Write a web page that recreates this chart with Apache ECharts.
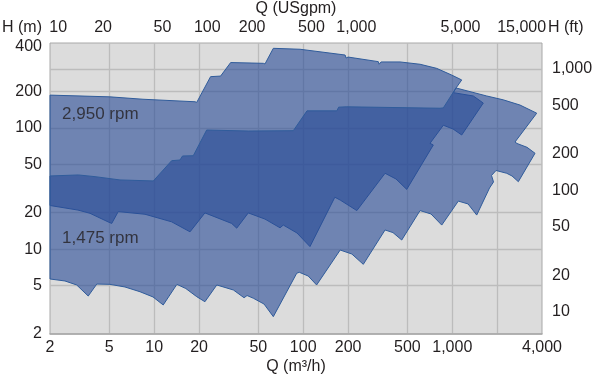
<!DOCTYPE html>
<html>
<head>
<meta charset="utf-8">
<script src="https://cdn.jsdelivr.net/npm/echarts@6/dist/echarts.min.js"></script>
<style>
  html, body { margin: 0; padding: 0; background: #fff; }
  #chart { width: 600px; height: 376px; }
</style>
</head>
<body>
<div id="chart"></div>
<script>
// outlines of the two operating ranges, [Q (m3/h), H (m)]
const rpm2950 = [
  [2, 186], [5.05, 180], [8.41, 172], [18.8, 164], [19.3, 162], [23.9, 264], [27.9, 267],
  [32.6, 345], [54.0, 340], [55.4, 336], [63.0, 452], [95.2, 444], [191, 398], [194, 376],
  [200, 383], [319, 351], [323, 334], [333, 349], [446, 349], [608, 334], [786, 309],
  [992, 272], [1157, 248], [1060, 213], [1016, 195], [1384, 183], [1615, 160], [1157, 87.3],
  [1012, 97.8], [871, 105], [709, 74.5], [746, 72.2], [495, 31.1], [419, 37.9], [354, 42.2],
  [229, 20.8], [177, 25.4], [163, 26.8], [111, 10.5], [90.8, 13.6], [73.5, 15.8], [69.9, 15.0],
  [55.4, 17.7], [42.8, 19.9], [35.8, 14.9], [33.1, 16.3], [21.9, 19.9], [17.4, 13.9],
  [13.1, 16.8], [8.68, 19.4], [5.74, 20.4], [5.19, 16.3], [4.90, 16.8], [3.71, 19.75],
  [3.08, 21.0], [2, 22.9]
];
const rpm1475 = [
  [2, 40.1], [3.10, 40.9], [4.01, 39.6], [5.90, 37.2], [9.87, 36.5], [13.1, 53.6], [14.9, 54.3],
  [15.5, 58.6], [18.3, 58.9], [22.5, 95.9], [42.8, 94.1], [85.8, 94.7], [106, 138], [168, 138],
  [173, 148], [196, 149], [828, 145], [871, 146], [1060, 213], [1702, 183], [2200, 170],
  [2849, 154], [3686, 132], [2636, 76.4], [2719, 74.3], [3173, 69.1], [3591, 61.7], [2775, 36.0],
  [2517, 40.1], [2320, 42.2], [1966, 44.5], [1834, 40.5], [1891, 35.8], [1778, 31.9], [1459, 19.1],
  [1276, 23.6], [1098, 24.9], [850, 15.8], [720, 19.5], [608, 20.8], [458, 11.9], [400, 13.7],
  [354, 14.4], [253, 7.50], [212, 9.12], [177, 9.84], [123, 5.07], [108, 6.01], [94.1, 6.45],
  [90.4, 6.33], [63.0, 2.78], [54.6, 3.53], [46.3, 3.94], [42.0, 4.15], [40.1, 3.98], [34.0, 4.61],
  [26.3, 5.07], [21.9, 3.69], [19.3, 4.06], [16.3, 4.74], [14.2, 5.13], [11.5, 3.47], [9.82, 4.04],
  [8.03, 4.46], [6.37, 4.88], [5.05, 5.13], [4.12, 5.16], [3.61, 4.11], [3.02, 5.07], [2.52, 5.47],
  [2, 5.68]
];
// label anchors [Q, H]
const rpmLabels = [
  { name: '2,950 rpm', value: [2.23, 130] },
  { name: '1,475 rpm', value: [2.23, 12.4] }
];

// axes
const qTicks = [2, 5, 10, 20, 50, 100, 200, 500, 1000, 4000];
const qGrid = [5, 10, 20, 50, 100, 200, 500, 1000, 2000];
const gpmTicks = [10, 20, 50, 100, 200, 500, 1000, 5000, 15000];
const hTicks = [2, 5, 10, 20, 50, 100, 200, 400];
const hGrid = [5, 10, 20, 50, 100, 200];
const ftTicks = [10, 20, 50, 100, 200, 500, 1000];
const ftGrid = [1000];

const M3H_TO_GPM = 4.40287;
const M_TO_FT = 1 / 0.3048;

const fontFamily = "'Liberation Sans', Arial, Helvetica, sans-serif";
const textColor = '#231f20';
const txt = { color: textColor, fontSize: 16, fontFamily: fontFamily };
const gridLine = { show: true, lineStyle: { color: '#bcbcbc', width: 1.3 } };

function fmt(v) {
  return Math.round(v).toLocaleString('en-US');
}

function polygonSeries(name, pts) {
  return {
    type: 'custom',
    name: name,
    xAxisIndex: 0,
    yAxisIndex: 0,
    silent: true,
    data: pts,
    renderItem: function (params, api) {
      if (params.dataIndex !== 0) return null;
      const points = pts.map(p => api.coord(p));
      return {
        type: 'polygon',
        shape: { points: points },
        style: {
          fill: 'rgba(38, 73, 150, 0.6)',
          stroke: '#305c9b',
          lineWidth: 1
        }
      };
    }
  };
}

const chart = echarts.init(document.getElementById('chart'));
chart.setOption({
  animation: false,
  grid: {
    left: 50, right: 58, top: 43, bottom: 42,
    outerBoundsMode: 'none',
    containLabel: false,
    show: true,
    backgroundColor: '#dcdcdc',
    borderColor: '#a8a8a8',
    borderWidth: 1
  },
  xAxis: [
    {
      type: 'log', position: 'bottom', min: 2, max: 4000,
      name: 'Q (m³/h)', nameLocation: 'middle', nameGap: 25,
      nameMoveOverlap: false,
      nameTextStyle: txt,
      axisLine: { show: true, lineStyle: { color: '#a8a8a8', width: 1.5 } },
      axisTick: { show: false, customValues: qGrid },
      splitLine: gridLine,
      axisLabel: Object.assign({ customValues: qTicks, formatter: fmt, margin: 6 }, txt)
    },
    {
      type: 'log', position: 'top',
      min: 2 * M3H_TO_GPM, max: 4000 * M3H_TO_GPM,
      name: 'Q (USgpm)', nameLocation: 'middle', nameGap: 26,
      nameMoveOverlap: false,
      nameTextStyle: txt,
      axisLine: { show: false },
      axisTick: { show: false },
      splitLine: { show: false },
      axisLabel: Object.assign({
        customValues: gpmTicks,
        margin: 7,
        formatter: v => (Math.round(v) === 15000 ? '{shift|' + fmt(v) + '}' : fmt(v)),
        rich: { shift: Object.assign({ padding: [0, 20, 0, 0] }, txt) }
      }, txt)
    }
  ],
  yAxis: [
    {
      type: 'log', position: 'left', min: 2, max: 500,
      name: 'H (m)', nameLocation: 'end', nameGap: 7,
      nameMoveOverlap: false,
      nameTextStyle: Object.assign({ align: 'right', padding: [0, 8, 0, 0] }, txt),
      axisLine: { show: false },
      axisTick: { show: false, customValues: hGrid },
      splitLine: gridLine,
      axisLabel: Object.assign({
        customValues: hTicks,
        margin: 8,
        formatter: v => (Math.round(v) === 400 ? '{up|400}' : fmt(v)),
        rich: { up: Object.assign({ padding: [0, 0, 16, 0] }, txt) }
      }, txt)
    },
    {
      type: 'log', position: 'right',
      min: 2 * M_TO_FT, max: 500 * M_TO_FT,
      name: 'H (ft)', nameLocation: 'end', nameGap: 7,
      nameMoveOverlap: false,
      nameTextStyle: Object.assign({ align: 'left', padding: [0, 0, 0, 6] }, txt),
      axisLine: { show: false },
      axisTick: { show: false, customValues: ftGrid },
      splitLine: gridLine,
      axisLabel: Object.assign({ customValues: ftTicks, formatter: fmt, margin: 10 }, txt)
    }
  ],
  series: [
    polygonSeries('2,950 rpm', rpm2950),
    polygonSeries('1,475 rpm', rpm1475),
    {
      type: 'scatter',
      xAxisIndex: 0,
      yAxisIndex: 0,
      symbolSize: 0,
      silent: true,
      z: 5,
      data: rpmLabels,
      label: {
        show: true,
        position: 'right',
        distance: 5,
        formatter: p => p.name,
        color: textColor,
        fontSize: 17,
        fontFamily: fontFamily
      }
    }
  ]
});
</script>
</body>
</html>
